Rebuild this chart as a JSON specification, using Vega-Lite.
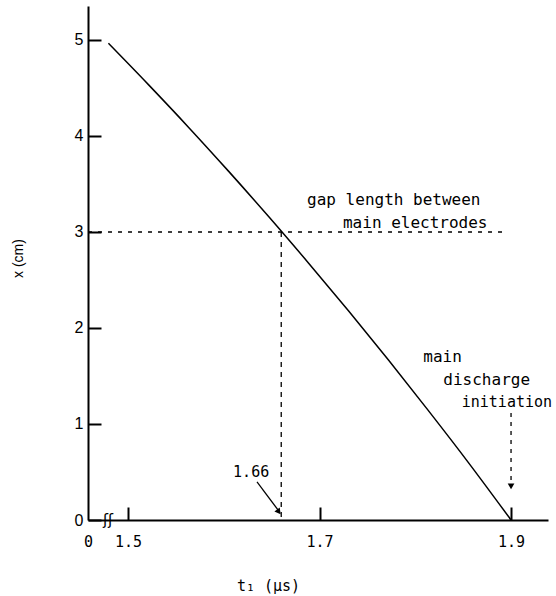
{
  "$schema": "https://vega.github.io/schema/vega-lite/v6.json",
  "width": 460,
  "height": 514,
  "autosize": {"type": "none"},
  "padding": {"left": 88, "top": 6, "right": 8, "bottom": 76},
  "background": "white",
  "config": {"view": {"stroke": null}, "font": "DejaVu Sans Mono"},
  "datasets": {
    "curve": [
      {"t": 1.4795, "x": 4.966},
      {"t": 1.5213, "x": 4.535},
      {"t": 1.5631, "x": 4.092},
      {"t": 1.6049, "x": 3.634},
      {"t": 1.6466, "x": 3.164},
      {"t": 1.6884, "x": 2.678},
      {"t": 1.7302, "x": 2.179},
      {"t": 1.772, "x": 1.666},
      {"t": 1.8137, "x": 1.139},
      {"t": 1.8555, "x": 0.598},
      {"t": 1.9, "x": 0.0}
    ],
    "gap": [{"t0": 1.4582, "t1": 1.894, "x": 3.0}],
    "drop": [{"t": 1.66, "x0": 3.0, "x1": 0.0}],
    "onset": [{"t": 1.9, "x0": 1.115, "x1": 0.4}],
    "pointer": [{"t0": 1.6347, "x0": 0.396, "t1": 1.6585, "x1": 0.08}],
    "heads": [
      {"t": 1.9, "x": 0.35, "dir": 180},
      {"t": 1.6575, "x": 0.085, "dir": 143}
    ],
    "notes": [
      {"t": 1.687, "x": 3.281, "size": "wide", "text": "gap length between"},
      {"t": 1.7245, "x": 3.042, "size": "wide", "text": "main electrodes"},
      {"t": 1.8084, "x": 1.646, "size": "wide", "text": "main"},
      {"t": 1.8293, "x": 1.406, "size": "wide", "text": "discharge"},
      {"t": 1.8485, "x": 1.177, "size": "narrow", "text": "initiation"},
      {"t": 1.6097, "x": 0.448, "size": "narrow", "text": "1.66"}
    ],
    "axisBreak": [{"t": 1.479, "x": 0, "text": "ʃʃ"}]
  },
  "layer": [
    {
      "data": {"name": "curve"},
      "mark": {"type": "line", "color": "black", "strokeWidth": 1.5, "interpolate": "monotone"},
      "encoding": {
        "x": {
          "field": "t",
          "type": "quantitative",
          "title": "t₁ (μs)",
          "scale": {"domain": [1.4582, 1.9386], "nice": false, "zero": false},
          "axis": {
            "values": [1.4582, 1.5, 1.7, 1.9],
            "labelExpr": "datum.value < 1.49 ? '0' : format(datum.value, '.1f')",
            "labelFlush": false,
            "labelOverlap": false,
            "tickSize": -13,
            "tickWidth": 2,
            "tickColor": "black",
            "tickOpacity": {"condition": {"test": "datum.value < 1.49", "value": 0}, "value": 1},
            "domainColor": "black",
            "domainWidth": 2,
            "grid": false,
            "labelFont": "DejaVu Sans Mono",
            "labelFontSize": 15,
            "labelColor": "black",
            "labelPadding": 27,
            "titleFont": "DejaVu Sans Mono",
            "titleFontSize": 15,
            "titleFontWeight": "normal",
            "titleColor": "black",
            "titleX": 180,
            "titleY": 65,
            "titleBaseline": "middle"
          }
        },
        "y": {
          "field": "x",
          "type": "quantitative",
          "title": "x (cm)",
          "scale": {"domain": [0, 5.354], "nice": false, "zero": false},
          "axis": {
            "values": [0, 1, 2, 3, 4, 5],
            "format": "d",
            "labelFlush": false,
            "labelOverlap": false,
            "tickSize": -13,
            "tickWidth": 2,
            "tickColor": "black",
            "domainColor": "black",
            "domainWidth": 2,
            "grid": false,
            "labelFont": "Liberation Sans",
            "labelFontSize": 16,
            "labelColor": "black",
            "labelPadding": 18,
            "titleFont": "Liberation Sans",
            "titleFontSize": 14,
            "titleFontWeight": "normal",
            "titleColor": "black",
            "titleX": -70,
            "titleY": 252,
            "titleBaseline": "middle"
          }
        }
      }
    },
    {
      "data": {"name": "gap"},
      "mark": {"type": "rule", "color": "black", "strokeWidth": 1.3, "strokeDash": [4, 6]},
      "encoding": {
        "x": {"field": "t0", "type": "quantitative", "title": "t₁ (μs)"},
        "x2": {"field": "t1"},
        "y": {"field": "x", "type": "quantitative", "title": "x (cm)"}
      }
    },
    {
      "data": {"name": "drop"},
      "mark": {"type": "rule", "color": "black", "strokeWidth": 1.3, "strokeDash": [5, 5]},
      "encoding": {
        "x": {"field": "t", "type": "quantitative", "title": "t₁ (μs)"},
        "y": {"field": "x0", "type": "quantitative", "title": "x (cm)"},
        "y2": {"field": "x1"}
      }
    },
    {
      "data": {"name": "onset"},
      "mark": {"type": "rule", "color": "black", "strokeWidth": 1.3, "strokeDash": [4, 5]},
      "encoding": {
        "x": {"field": "t", "type": "quantitative", "title": "t₁ (μs)"},
        "y": {"field": "x0", "type": "quantitative", "title": "x (cm)"},
        "y2": {"field": "x1"}
      }
    },
    {
      "data": {"name": "pointer"},
      "mark": {"type": "rule", "color": "black", "strokeWidth": 1.3},
      "encoding": {
        "x": {"field": "t0", "type": "quantitative", "title": "t₁ (μs)"},
        "x2": {"field": "t1"},
        "y": {"field": "x0", "type": "quantitative", "title": "x (cm)"},
        "y2": {"field": "x1"}
      }
    },
    {
      "data": {"name": "heads"},
      "mark": {"type": "point", "shape": "triangle-up", "filled": true, "color": "black", "size": 45, "opacity": 1},
      "encoding": {
        "x": {"field": "t", "type": "quantitative", "title": "t₁ (μs)"},
        "y": {"field": "x", "type": "quantitative", "title": "x (cm)"},
        "angle": {"field": "dir", "type": "quantitative", "scale": null}
      }
    },
    {
      "data": {"name": "notes"},
      "mark": {"type": "text", "align": "left", "baseline": "alphabetic", "font": "DejaVu Sans Mono", "color": "black"},
      "encoding": {
        "x": {"field": "t", "type": "quantitative", "title": "t₁ (μs)"},
        "y": {"field": "x", "type": "quantitative", "title": "x (cm)"},
        "text": {"field": "text"},
        "size": {"field": "size", "type": "nominal", "scale": {"domain": ["wide", "narrow"], "range": [16, 15]}, "legend": null}
      }
    },
    {
      "data": {"name": "axisBreak"},
      "mark": {"type": "text", "align": "center", "baseline": "middle", "font": "DejaVu Sans", "fontSize": 15, "color": "black"},
      "encoding": {
        "x": {"field": "t", "type": "quantitative", "title": "t₁ (μs)"},
        "y": {"field": "x", "type": "quantitative", "title": "x (cm)"},
        "text": {"field": "text"}
      }
    }
  ]
}
